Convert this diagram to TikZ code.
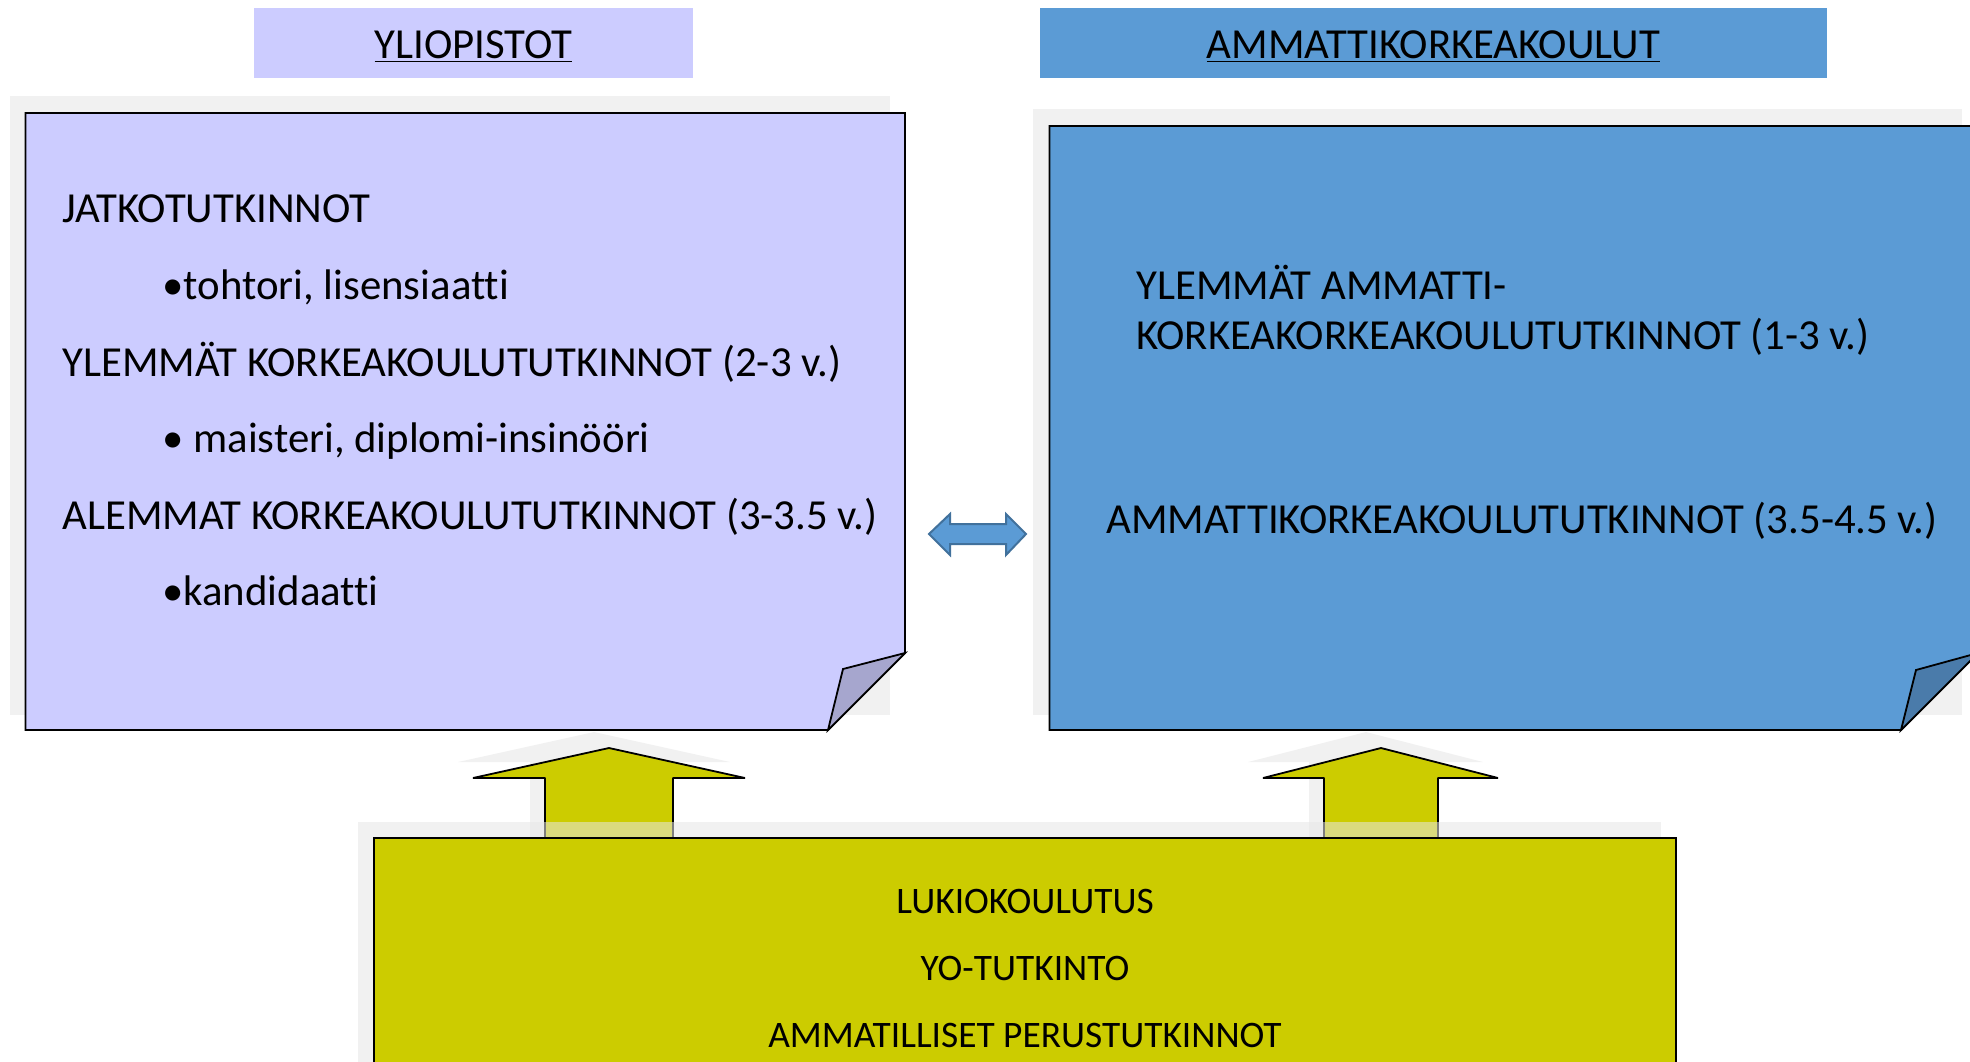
\documentclass[tikz,border=0pt]{standalone}
\usepackage{fontspec}
\setmainfont[Ligatures=NoCommon]{Carlito}
\definecolor{lila}{HTML}{CCCCFF}
\definecolor{lilataite}{HTML}{A6A6CE}
\definecolor{sini}{HTML}{5B9BD5}
\definecolor{sinitaite}{HTML}{4A7BAA}
\definecolor{sinireuna}{HTML}{41719C}
\definecolor{keltainen}{HTML}{CCCC00}
\definecolor{varjoharmaa}{HTML}{E6E6E6}
\begin{document}
\begin{tikzpicture}[x=0.5pt,y=-0.5pt,
  varjo/.style={fill=varjoharmaa,fill opacity=0.55},
  teksti/.style={anchor=base west,inner sep=0pt,font=\fontsize{21.4}{25}\selectfont},
  otsikko/.style={anchor=base,inner sep=0pt,font=\fontsize{21.4}{25}\selectfont},
  alateksti/.style={anchor=base,inner sep=0pt,font=\fontsize{18.7}{22}\selectfont}]
\useasboundingbox (0,0) rectangle (1970,1061);

% otsikot
\path[fill=lila] (254,7.5) rectangle (693,77.5);
\path[fill=sini] (1040,7.5) rectangle (1827,77.5);
\node[otsikko] (yo) at (473.5,58) {\underline{YLIOPISTOT}};
\node[otsikko] (amk) at (1433.5,58) {\underline{AMMATTIKORKEAKOULUT}};

% varjot
\path[varjo] (10,96) rectangle (890,715);
\path[varjo] (1033,109) rectangle (1962,715);

% laatikot
\path[draw,line width=0.9pt,fill=lila] (25.5,113) -- (905,113) -- (905,653) -- (828,730) -- (25.5,730) -- cycle;
\path[draw,line width=0.9pt,fill=lilataite] (905,653) -- (843,669) -- (828,730) -- cycle;
\path[draw,line width=0.9pt,fill=sini] (1049.5,126) -- (1978,126) -- (1978,653) -- (1901,730) -- (1049.5,730) -- cycle;
\path[draw,line width=0.9pt,fill=sinitaite] (1978,653) -- (1916,670) -- (1901,730) -- cycle;

\node[teksti] (jatko) at (62,222) {JATKOTUTKINNOT};
\node[teksti] (tohtori) at (162,299) {•tohtori, lisensiaatti};
\node[teksti] (ylemmat) at (62,376) {YLEMMÄT KORKEAKOULUTUTKINNOT (2-3 v.)};
\node[teksti] (maisteri) at (162,452) {• maisteri, diplomi-insinööri};
\node[teksti] (alemmat) at (62,529) {ALEMMAT KORKEAKOULUTUTKINNOT (3-3.5 v.)};
\node[teksti] (kandi) at (162,605) {•kandidaatti};

\node[teksti] (ylamk1) at (1136,299) {YLEMMÄT AMMATTI-};
\node[teksti] (ylamk2) at (1136,349) {KORKEAKORKEAKOULUTUTKINNOT (1-3 v.)};
\node[teksti] (amktutk) at (1106,533) {AMMATTIKORKEAKOULUTUTKINNOT (3.5-4.5 v.)};

% nuoli laatikoiden valissa
\path[draw=sinireuna,line width=1pt,fill=sini] (929,534) -- (950,514) -- (950,524) -- (1006,524) -- (1006,514) -- (1026,534)
  -- (1006,555) -- (1006,544) -- (950,544) -- (950,555) -- cycle;

% nuolet ylos
\path[varjo] (594,732) -- (730,762) -- (658,762) -- (658,838) -- (530,838) -- (530,762) -- (458,762) -- cycle;
\path[varjo] (1366,732) -- (1483,762) -- (1423,762) -- (1423,838) -- (1309,838) -- (1309,762) -- (1248,762) -- cycle;
\path[draw,line width=0.9pt,line join=bevel,fill=keltainen] (609,748) -- (745,778) -- (673,778) -- (673,838) -- (545,838) -- (545,778) -- (473,778) -- cycle;
\path[draw,line width=0.9pt,line join=bevel,fill=keltainen] (1381,748) -- (1498,778) -- (1438,778) -- (1438,838) -- (1324,838) -- (1324,778) -- (1263,778) -- cycle;

% alalaatikko
\path[varjo] (358,822) rectangle (1661,1070);
\path[draw,line width=0.9pt,fill=keltainen] (374,838) rectangle (1676,1070);
\node[alateksti] (lukio) at (1025,913) {LUKIOKOULUTUS};
\node[alateksti] (yotutk) at (1025,980) {YO-TUTKINTO};
\node[alateksti] (perus) at (1025,1047) {AMMATILLISET PERUSTUTKINNOT};
\end{tikzpicture}
\end{document}
